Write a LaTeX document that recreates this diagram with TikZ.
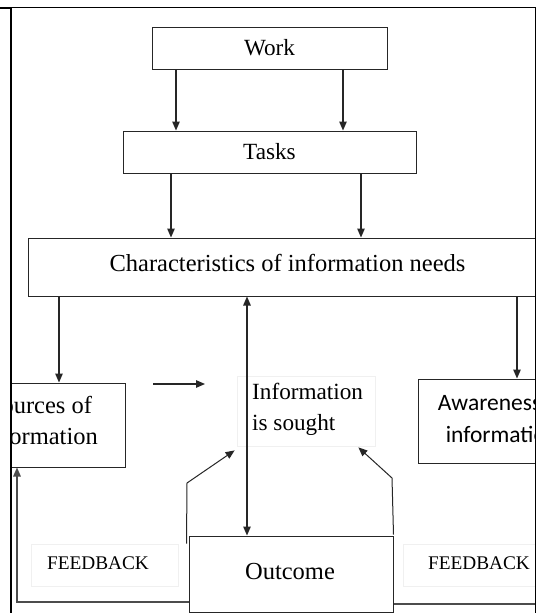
\documentclass[tikz,border=0pt]{standalone}
\usepackage{fontspec}
\setmainfont{Liberation Serif}
\newfontfamily\calib{Carlito}
\usetikzlibrary{arrows.meta}
\begin{document}
\begin{tikzpicture}[x=1pt,y=-1pt,
  box/.style={draw=black!85,line width=1pt,fill=white,inner sep=0pt},
  faint/.style={draw=black!6,line width=0.8pt,inner sep=0pt},
  arr/.style={draw=black!85,line width=1.2pt,-{Triangle[length=9pt,width=7.5pt]}},
  darr/.style={draw=black!85,line width=1.2pt,{Triangle[length=9pt,width=7.5pt]}-{Triangle[length=9pt,width=7.5pt]}},
  fbline/.style={draw=black!70,line width=1.4pt},
  big/.style={font=\fontsize{24.5}{31}\selectfont},
  mid/.style={font=\fontsize{23.2}{31}\selectfont},
  small/.style={font=\fontsize{19.3}{24}\selectfont}]
\useasboundingbox (0,0) rectangle (537,613);
\fill[white] (0,0) rectangle (537,613);

\begin{scope}
\clip (11,7) rectangle (535.5,613);

% boxes
\node[box,mid,minimum width=235pt,minimum height=42pt] (work) at (269.5,48) {Work};
\node[box,mid,minimum width=293pt,minimum height=42pt] (tasks) at (269.5,152) {Tasks};
\node[box,minimum width=519pt,minimum height=58pt] (chars) at (287.5,267) {};
\node[big,inner sep=0pt] (charstext) at (287.5,263) {Characteristics of information needs};
\node[box,minimum width=170pt,minimum height=84pt] (sources) at (40,425) {};
\node[big,align=center,inner sep=0pt] (sourcestext) at (40,420) {Sources of\\information};
\node[faint,minimum width=138pt,minimum height=70pt] (info) at (306,411) {};
\node[mid,anchor=north west,align=left,inner sep=0pt] (infotext) at (252,383) {Information\\is sought};
\node[box,minimum width=168pt,minimum height=84pt] (aware) at (502,421) {};
\node[align=center,inner sep=0pt,font=\calib\fontsize{23.5}{32}\selectfont] (awaretext) at (502,419) {Awareness of\\information};
\node[box,minimum width=204pt,minimum height=76pt] (outcome) at (291,574) {};
\node[big,inner sep=0pt] (outtext) at (290,572) {Outcome};

% feedback labels
\node[faint,minimum width=147pt,minimum height=42pt] (fbl) at (104.5,565) {};
\node[small,inner sep=0pt] (fblt) at (98,563) {FEEDBACK};
\node[faint,minimum width=150pt,minimum height=42pt] (fbr) at (478,565) {};
\node[small,inner sep=0pt] (fbrt) at (479,563) {FEEDBACK};

% downward flow
\draw[arr] (176,0 |- work.south) -- (176,0 |- tasks.north);
\draw[arr] (343,0 |- work.south) -- (343,0 |- tasks.north);
\draw[arr] (171,0 |- tasks.south) -- (171,0 |- chars.north);
\draw[arr] (361,0 |- tasks.south) -- (361,0 |- chars.north);
\draw[arr] (59,0 |- chars.south) -- (59,0 |- sources.north);
\draw[arr] (517,0 |- chars.south) -- (517,0 |- aware.north);
\draw[darr] (247,0 |- chars.south) -- (247,0 |- outcome.north);

% short horizontal arrow
\coordinate (h1) at (153,384);
\coordinate (h2) at (205,384);
\draw[arr] (h1) -- (h2);

% rising arrows from the outcome
\draw[arr,line width=1pt] ([xshift=-2pt,yshift=-8pt]outcome.north west) -- (187,483) -- ([shift={(-2,4)}]info.south west);
\draw[arr,line width=1pt] ([yshift=1pt]outcome.north east) -- (392,478) -- ([shift={(-17,1)}]info.south east);

% feedback loops
\draw[fbline,-{Triangle[length=9pt,width=7.5pt]}] ([yshift=-28pt]outcome.west) -- (17,602) -- (17,0 |- sources.south);
\draw[fbline] ([yshift=-30pt]outcome.east) -- (545,604);
\end{scope}

% cell borders
\draw[line width=2pt] (0,7.5) -- (11,7.5);
\draw[line width=1.3pt] (11,7.5) -- (535.5,7.5);
\draw[line width=1.3pt] (11,7.5) -- (11,613);
\draw[line width=1.6pt] (535.5,7.5) -- (535.5,613);
\end{tikzpicture}
\end{document}
